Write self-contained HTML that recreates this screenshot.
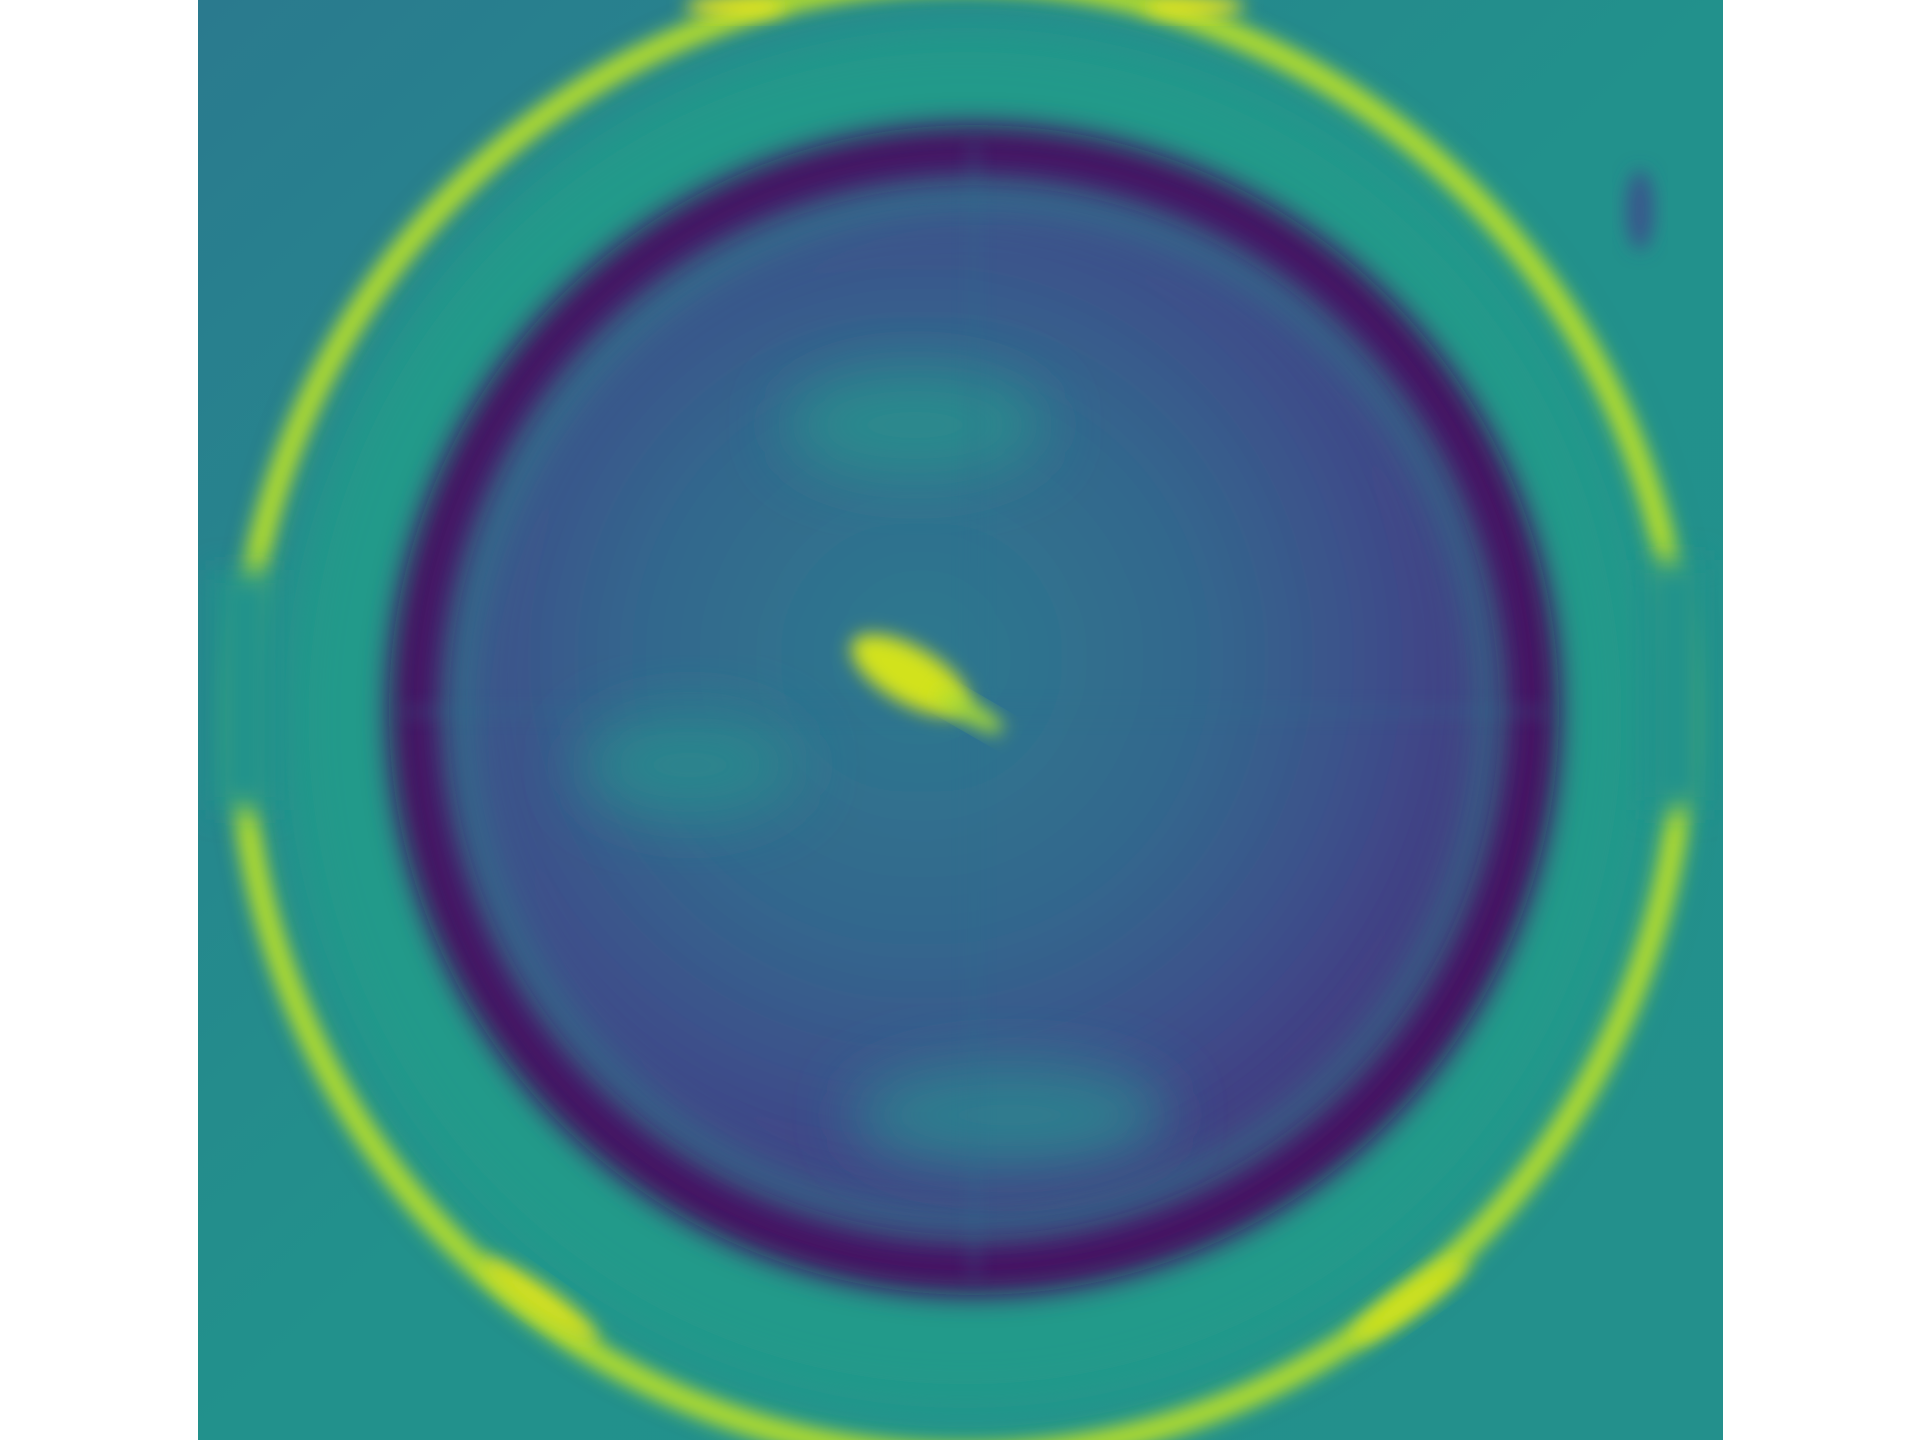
<!DOCTYPE html>
<html><head><meta charset="utf-8"><style>
html,body{margin:0;padding:0;background:#fff;width:1920px;height:1440px;overflow:hidden}
svg{display:block}
</style></head><body>
<svg width="1920" height="1440" viewBox="0 0 1920 1440">
<defs>
<filter id="b1" x="-20%" y="-20%" width="140%" height="140%"><feGaussianBlur stdDeviation="14"/></filter>
<filter id="b2" x="-50%" y="-50%" width="200%" height="200%"><feGaussianBlur stdDeviation="30"/></filter>
<filter id="b3" x="-50%" y="-50%" width="200%" height="200%"><feGaussianBlur stdDeviation="9"/></filter>
<clipPath id="clip"><rect x="198" y="0" width="1525" height="1440"/></clipPath>
<radialGradient id="disk" cx="0.45" cy="0.45" r="0.6">
<stop offset="0" stop-color="#2c7a8e"/><stop offset="0.45" stop-color="#33678d"/><stop offset="0.75" stop-color="#3e4c8a"/><stop offset="1" stop-color="#472d7b"/>
</radialGradient>
<linearGradient id="bg" x1="0" y1="0" x2="1" y2="1">
<stop offset="0" stop-color="#2a7a8e"/><stop offset="0.5" stop-color="#22918c"/><stop offset="1" stop-color="#23908c"/>
</linearGradient>
</defs>
<g clip-path="url(#clip)">
<rect x="198" y="0" width="1525" height="1440" fill="url(#bg)"/>
<ellipse cx="965" cy="718" rx="690" ry="700" fill="#229a8a" filter="url(#b2)"/>
<ellipse cx="962" cy="718" rx="722" ry="738" fill="none" stroke="#b5de2b" stroke-width="24" filter="url(#b3)"/>
<rect x="210" y="570" width="70" height="240" fill="#24938b" filter="url(#b1)"/>
<rect x="1640" y="560" width="70" height="250" fill="#24938b" filter="url(#b1)"/>
<ellipse cx="735" cy="6" rx="50" ry="10" fill="#e8e41f" filter="url(#b3)"/>
<ellipse cx="1195" cy="6" rx="50" ry="10" fill="#e8e41f" filter="url(#b3)"/>
<ellipse cx="540" cy="1300" rx="70" ry="14" transform="rotate(35 540 1300)" fill="#d8e21f" filter="url(#b3)"/>
<ellipse cx="1410" cy="1300" rx="70" ry="14" transform="rotate(-35 1410 1300)" fill="#cfe11f" filter="url(#b3)"/>
<circle cx="974" cy="710" r="555" fill="none" stroke="#450e5e" stroke-width="60" filter="url(#b1)"/>
<circle cx="974" cy="710" r="525" fill="url(#disk)" filter="url(#b2)"/>
<ellipse cx="915" cy="425" rx="130" ry="55" fill="#2b8a8d" filter="url(#b2)"/>
<ellipse cx="690" cy="765" rx="110" ry="55" fill="#2b858d" filter="url(#b2)"/>
<ellipse cx="1010" cy="1115" rx="160" ry="55" fill="#2d7e8e" filter="url(#b2)"/>
<g stroke="#2f6f8e" stroke-width="8" opacity="0.35" filter="url(#b3)">
<line x1="400" y1="712" x2="1550" y2="712"/>
<line x1="974" y1="140" x2="974" y2="1280"/>
</g>
<ellipse cx="910" cy="675" rx="66" ry="28" transform="rotate(30 910 675)" fill="#d2e21b" filter="url(#b3)"/>
<ellipse cx="970" cy="712" rx="38" ry="10" transform="rotate(30 970 712)" fill="#a8db34" filter="url(#b3)"/>
<ellipse cx="1640" cy="210" rx="14" ry="40" fill="#38598c" filter="url(#b3)"/>
</g>
</svg>
</body></html>
